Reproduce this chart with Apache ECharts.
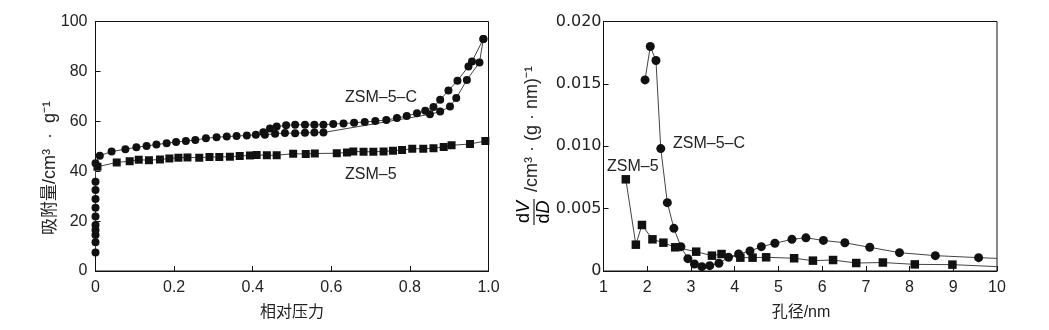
<!DOCTYPE html>
<html>
<head>
<meta charset="utf-8">
<script src="https://cdn.jsdelivr.net/npm/echarts@6/dist/echarts.min.js"></script>
<style>html,body{margin:0;padding:0;background:#fff;}#c{width:1049px;height:330px;}</style>
</head>
<body>
<div id="c"></div>
<script>
// ---- Left panel: N2 isotherms (relative pressure vs adsorbed volume) ----
var leftXTickLabels = ['0', '0.2', '0.4', '0.6', '0.8', '1.0'];
var leftYTickLabels = ['0', '20', '40', '60', '80', '100'];
var zsm5cAdsorption = [
  [0, 7.4], [0, 11.5], [0, 14.4], [0, 16.4], [0, 18.4], [0, 21.8], [0, 25.4], [0, 28.9], [0, 32.5], [0, 35.8],
  [0, 43.2], [0.011, 46.2], [0.041, 47.9], [0.076, 48.8], [0.104, 49.6], [0.13, 50.1], [0.155, 50.7],
  [0.181, 51.2], [0.205, 51.7], [0.23, 52.1], [0.254, 52.5], [0.281, 53.2], [0.308, 53.6], [0.334, 53.9],
  [0.359, 54.1], [0.385, 54.3], [0.408, 54.6], [0.431, 54.6], [0.457, 55.0], [0.482, 55.3], [0.508, 55.2],
  [0.533, 55.4], [0.557, 55.5], [0.58, 55.5], [0.851, 62.8], [0.877, 63.9], [0.902, 65.9], [0.918, 69.3],
  [0.945, 76.6], [0.977, 83.6], [0.987, 93.0]
];
var zsm5cDesorption = [
  [0.987, 93.0], [0.958, 84.0], [0.949, 82.0], [0.921, 76.3], [0.898, 72.3], [0.877, 68.6], [0.86, 65.7],
  [0.839, 64.2], [0.818, 63.2], [0.792, 62.1], [0.767, 61.3], [0.74, 60.5], [0.712, 60.1], [0.685, 59.7],
  [0.658, 59.4], [0.631, 59.1], [0.605, 58.9], [0.58, 58.6], [0.557, 58.6], [0.533, 58.6], [0.508, 58.6],
  [0.485, 58.4], [0.461, 57.9], [0.444, 57.1], [0.427, 55.6]
];
var zsm5Isotherm = [
  [0.005, 41.8], [0.054, 43.5], [0.087, 44.0], [0.11, 44.6], [0.136, 44.4], [0.164, 44.7], [0.188, 45.1],
  [0.211, 45.4], [0.234, 45.5], [0.264, 45.4], [0.29, 45.7], [0.315, 45.7], [0.342, 45.8], [0.367, 46.1],
  [0.393, 46.3], [0.41, 46.5], [0.436, 46.4], [0.461, 46.4], [0.503, 47.0], [0.535, 46.9], [0.558, 47.1],
  [0.614, 47.2], [0.64, 47.5], [0.656, 47.9], [0.682, 47.8], [0.707, 47.8], [0.733, 47.9], [0.757, 48.2],
  [0.78, 48.5], [0.806, 49.0], [0.834, 49.0], [0.86, 49.2], [0.886, 49.7], [0.906, 50.4], [0.953, 50.9],
  [0.992, 52.1]
];

// ---- Right panel: pore size distribution ----
var rightXTickLabels = ['1', '2', '3', '4', '5', '6', '7', '8', '9', '10'];
var rightYTickLabels = ['0', '0.005', '0.010', '0.015', '0.020'];
var zsm5cPSD = [
  [1.95, 0.01532], [2.07, 0.0180], [2.20, 0.01687], [2.31, 0.00981], [2.46, 0.00548], [2.61, 0.00342],
  [2.77, 0.00195], [2.93, 0.00099], [3.08, 0.00056], [3.25, 0.00035], [3.43, 0.00043], [3.64, 0.00062],
  [3.86, 0.0011], [4.09, 0.00136], [4.35, 0.0016], [4.61, 0.00195], [4.92, 0.00222], [5.31, 0.00254],
  [5.63, 0.00266], [6.03, 0.00245], [6.52, 0.00226], [7.09, 0.0019], [7.77, 0.00147], [8.59, 0.00123],
  [9.58, 0.00107]
];
var zsm5cPSDTail = [10, 0.00101];
var zsm5PSD = [
  [1.51, 0.00735], [1.74, 0.00211], [1.88, 0.00369], [2.12, 0.00254], [2.37, 0.00227], [2.64, 0.0019],
  [3.12, 0.00155], [3.48, 0.00123], [3.70, 0.00136], [4.13, 0.00107], [4.41, 0.00107], [4.72, 0.0011],
  [5.36, 0.00102], [5.79, 0.00083], [6.25, 0.00088], [6.78, 0.00064], [7.39, 0.00068], [8.12, 0.00053],
  [8.98, 0.00051]
];
var zsm5PSDTail = [10, 0.00035];

var chart = echarts.init(document.getElementById('c'), null, {renderer: 'canvas'});
var FONT = '"Liberation Sans", Arial, "Noto Sans CJK SC", sans-serif';
var TXT = '#222';

function axisCommon() {
  return {
    axisLine: {show: true, lineStyle: {color: '#111', width: 1}},
    axisTick: {show: true, inside: true, length: 5, lineStyle: {color: '#111', width: 1}},
    splitLine: {show: false},
    axisLabel: {color: TXT, fontFamily: FONT, fontSize: 16}
  };
}
function merge(a, b) { for (var k in b) a[k] = b[k]; return a; }

var lineStyle = {color: '#444', width: 1};
function withTail(arr, tail) {
  return arr.map(function (p) { return p; }).concat([{value: tail, symbol: 'none'}]);
}

var option = {
  animation: false,
  backgroundColor: '#fff',
  grid: [
    {left: 95.5, top: 21.5, width: 393, height: 249.5, show: true, borderColor: '#111', borderWidth: 1, backgroundColor: 'transparent', containLabel: false},
    {left: 603.5, top: 21.5, width: 393.5, height: 249.5, show: true, borderColor: '#111', borderWidth: 1, backgroundColor: 'transparent', containLabel: false}
  ],
  xAxis: [
    merge(axisCommon(), {
      type: 'value', gridIndex: 0, min: 0, max: 1, interval: 0.2,
      axisLabel: {color: TXT, fontFamily: FONT, fontSize: 16, margin: 9,
        formatter: function (v) { return leftXTickLabels[Math.round(v / 0.2)]; }}
    }),
    merge(axisCommon(), {
      type: 'value', gridIndex: 1, min: 1, max: 10, interval: 1,
      axisLabel: {color: TXT, fontFamily: FONT, fontSize: 16, margin: 9,
        formatter: function (v) { return rightXTickLabels[Math.round(v) - 1]; }}
    })
  ],
  yAxis: [
    merge(axisCommon(), {
      type: 'value', gridIndex: 0, min: 0, max: 100, interval: 20,
      axisLabel: {color: TXT, fontFamily: FONT, fontSize: 16, margin: 8,
        formatter: function (v) { return leftYTickLabels[Math.round(v / 20)]; }}
    }),
    merge(axisCommon(), {
      type: 'value', gridIndex: 1, min: 0, max: 0.02, interval: 0.005,
      axisLabel: {color: TXT, fontFamily: '"DejaVu Sans", sans-serif', fontSize: 16, margin: 2,
        formatter: function (v) { return rightYTickLabels[Math.round(v / 0.005)]; }}
    })
  ],
  series: [
    {name: 'ZSM-5-C adsorption', type: 'line', xAxisIndex: 0, yAxisIndex: 0, data: zsm5cAdsorption,
      symbol: 'circle', symbolSize: 8, itemStyle: {color: '#111'}, lineStyle: lineStyle, z: 3},
    {name: 'ZSM-5-C desorption', type: 'line', xAxisIndex: 0, yAxisIndex: 0, data: zsm5cDesorption,
      symbol: 'circle', symbolSize: 8, itemStyle: {color: '#111'}, lineStyle: lineStyle, z: 3},
    {name: 'ZSM-5', type: 'line', xAxisIndex: 0, yAxisIndex: 0, data: zsm5Isotherm,
      symbol: 'rect', symbolSize: 8, itemStyle: {color: '#111'}, lineStyle: lineStyle, z: 3},
    {name: 'ZSM-5-C PSD', type: 'line', xAxisIndex: 1, yAxisIndex: 1, data: withTail(zsm5cPSD, zsm5cPSDTail),
      symbol: 'circle', symbolSize: 9, itemStyle: {color: '#111'}, lineStyle: lineStyle, z: 3},
    {name: 'ZSM-5 PSD', type: 'line', xAxisIndex: 1, yAxisIndex: 1, data: withTail(zsm5PSD, zsm5PSDTail),
      symbol: 'rect', symbolSize: 8.5, itemStyle: {color: '#111'}, lineStyle: lineStyle, z: 3}
  ],
  graphic: [
    // series labels
    {type: 'text', x: 345, y: 98, style: {text: 'ZSM–5–C', fill: TXT, font: '16px ' + FONT, verticalAlign: 'middle', align: 'left'}},
    {type: 'text', x: 345, y: 175, style: {text: 'ZSM–5', fill: TXT, font: '16px ' + FONT, verticalAlign: 'middle', align: 'left'}},
    {type: 'text', x: 673, y: 144, style: {text: 'ZSM–5–C', fill: TXT, font: '16px ' + FONT, verticalAlign: 'middle', align: 'left'}},
    {type: 'text', x: 607, y: 167, style: {text: 'ZSM–5', fill: TXT, font: '16px ' + FONT, verticalAlign: 'middle', align: 'left'}},
    // axis titles
    {type: 'text', x: 292, y: 313, style: {text: '相对压力', fill: TXT, font: '16px ' + FONT, align: 'center', verticalAlign: 'middle'}},
    {type: 'text', x: 801, y: 313, style: {text: '孔径/nm', fill: TXT, font: '16px ' + FONT, align: 'center', verticalAlign: 'middle'}},
    {type: 'text', x: 50, y: 168, rotation: Math.PI / 2,
      style: {text: '{c|吸附量}{l|/cm³  ·  g⁻¹}', align: 'center', verticalAlign: 'middle',
        rich: {c: {fontSize: 17, fontFamily: FONT, fill: TXT, color: TXT}, l: {fontSize: 18, fontFamily: FONT, fill: TXT, color: TXT}}}},
    {type: 'group', x: 534, y: 212, rotation: Math.PI / 2, children: [
      {type: 'text', x: 0, y: -1, style: {text: '{r|d}{i|V}', align: 'center', verticalAlign: 'bottom',
        rich: {r: {fontSize: 18, fontFamily: FONT, color: TXT}, i: {fontSize: 18, fontFamily: FONT, fontStyle: 'italic', color: TXT}}}},
      {type: 'line', shape: {x1: -13, y1: 0, x2: 13, y2: 0}, style: {stroke: TXT, lineWidth: 1.2}},
      {type: 'text', x: 0, y: 1, style: {text: '{r|d}{i|D}', align: 'center', verticalAlign: 'top',
        rich: {r: {fontSize: 18, fontFamily: FONT, color: TXT}, i: {fontSize: 18, fontFamily: FONT, fontStyle: 'italic', color: TXT}}}},
      {type: 'text', x: 20, y: -2, style: {text: '/cm³ · (g · nm)⁻¹', fill: TXT, font: '18px ' + FONT, align: 'left', verticalAlign: 'middle'}}
    ]}
  ]
};
chart.setOption(option);
</script>
</body>
</html>
